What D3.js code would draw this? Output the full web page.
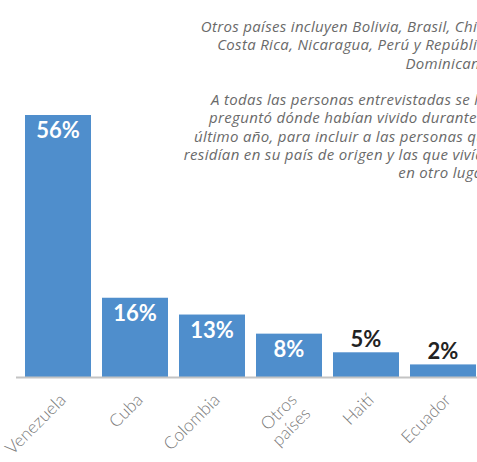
<!DOCTYPE html>
<html>
<head>
<meta charset="utf-8">
<script src="https://cdn.jsdelivr.net/npm/d3@7"></script>
<style>
  body { margin: 0; background: #fff; }
  svg { display: block; }
  .note { font-family: "Open Sans", sans-serif; font-style: italic; font-size: 15px; letter-spacing: 0.33px; fill: #6a6a6a; }
  .cat { font-family: Lato, sans-serif; font-weight: 300; font-size: 17.5px; fill: #7a7a7a; }
  .val { font-family: Lato, sans-serif; font-weight: 700; font-size: 22px; }
</style>
</head>
<body>
<script>
var categories = ["Venezuela", "Cuba", "Colombia", "Otros países", "Haití", "Ecuador"];
// bar heights
var values = [56.2, 17, 13.4, 9.3, 5.3, 2.7];
// labels shown on the bars
var labels = ["56%", "16%", "13%", "8%", "5%", "2%"];
var notes1 = ["Otros países incluyen Bolivia, Brasil, Chile,", "Costa Rica, Nicaragua, Perú y República", "Dominicana."];
var notes2 = ["A todas las personas entrevistadas se les", "preguntó dónde habían vivido durante el", "último año, para incluir a las personas que", "residían en su país de origen y las que vivían", "en otro lugar."];

var width = 477, height = 462;
var baseY = 377;

var svg = d3.select("body").append("svg")
  .attr("width", width)
  .attr("height", height);

var p = 11 / 77;
var xScale = d3.scaleBand()
  .domain(categories)
  .range([19.5, 481.5])
  .paddingInner(p)
  .paddingOuter(p / 2);

var yScale = d3.scaleLinear()
  .domain([0, 56.2])
  .range([baseY, 115]);

// notes (right aligned, running off the edge)
var noteX = 493;
svg.append("g").selectAll("text")
  .data(notes1).enter()
  .append("text")
  .attr("class", "note")
  .attr("x", noteX)
  .attr("y", function (d, i) { return 32 + i * 18.3; })
  .attr("text-anchor", "end")
  .text(function (d) { return d; });

svg.append("g").selectAll("text")
  .data(notes2).enter()
  .append("text")
  .attr("class", "note")
  .attr("x", noteX)
  .attr("y", function (d, i) { return 105 + i * 18.3; })
  .attr("text-anchor", "end")
  .text(function (d) { return d; });

// bars
svg.selectAll("rect.bar")
  .data(values).enter()
  .append("rect")
  .attr("class", "bar")
  .attr("x", function (d, i) { return xScale(categories[i]); })
  .attr("y", function (d) { return yScale(d); })
  .attr("width", xScale.bandwidth())
  .attr("height", function (d) { return baseY - yScale(d); })
  .attr("fill", "#4f8ecc");

// axis line
svg.append("line")
  .attr("x1", 16)
  .attr("x2", width)
  .attr("y1", baseY + 0.5)
  .attr("y2", baseY + 0.5)
  .attr("stroke", "#c4c4c4")
  .attr("stroke-width", 2);

// value labels: inside for big bars, above for small
svg.selectAll("text.val")
  .data(values).enter()
  .append("text")
  .attr("class", "val")
  .attr("x", function (d, i) { return xScale(categories[i]) + xScale.bandwidth() / 2; })
  .attr("y", function (d) {
    return d > 8 ? yScale(d) + 23 : yScale(d) - 5;
  })
  .attr("text-anchor", "middle")
  .attr("fill", function (d) { return d > 8 ? "#fff" : "#222"; })
  .text(function (d, i) { return labels[i]; });

// category labels, rotated
var cat = svg.selectAll("text.cat")
  .data(categories).enter()
  .append("text")
  .attr("class", "cat")
  .attr("text-anchor", "end")
  .attr("transform", function (d) {
    var cx = xScale(d) + xScale.bandwidth() / 2 + 9;
    return "translate(" + cx + "," + 401 + ") rotate(-45)";
  });

cat.each(function (d) {
  var parts = d.split(" ");
  var t = d3.select(this);
  parts.forEach(function (w, j) {
    t.append("tspan")
      .attr("x", 0)
      .attr("dy", j == 0 ? 0 : "1.1em")
      .text(w);
  });
});
</script>
</body>
</html>
